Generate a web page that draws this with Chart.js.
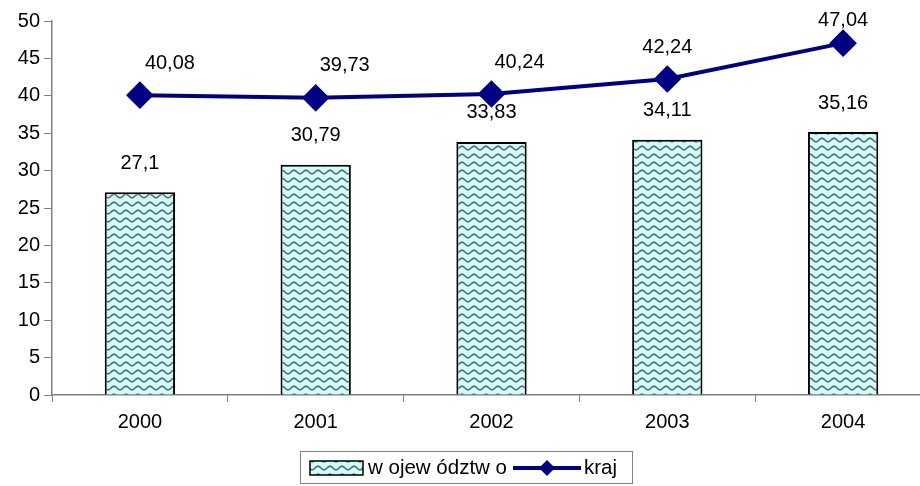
<!DOCTYPE html>
<html lang="pl">
<head>
<meta charset="UTF-8">
<title>wojewodztwo / kraj</title>
<script src="https://cdn.jsdelivr.net/npm/chart.js@4/dist/chart.umd.min.js"></script>
<style>
  html, body { margin: 0; padding: 0; background: #fff; overflow: hidden; }
</style>
</head>
<body>
<canvas id="chart" width="946" height="486"></canvas>
<script>
const years = ['2000', '2001', '2002', '2003', '2004'];
const wojewodztwo = [27.1, 30.79, 33.83, 34.11, 35.16];
const kraj = [40.08, 39.73, 40.24, 42.24, 47.04];
const barLabel = 'w ojew ództw o';
const lineLabel = 'kraj';

const FONT = '"Liberation Sans", Arial, sans-serif';
const FS = 20;
// horizontal nudge of the line value labels, as placed in the original
const lineLabelShift = [30, 29, 28, 0, 0];

// wavy hatch fill used for the bars
function wavePattern() {
  const c = document.createElement('canvas');
  c.width = 12; c.height = 8;
  const g = c.getContext('2d');
  g.fillStyle = '#ccfcfc';
  g.fillRect(0, 0, 12, 8);
  g.strokeStyle = '#6a6a6a';
  g.lineWidth = 1.7;
  g.beginPath();
  for (let x = -1; x <= 13; x += 0.5) {
    const y = 4 + 1.8 * Math.cos(x / 12 * Math.PI * 2);
    if (x === -1) g.moveTo(x, y); else g.lineTo(x, y);
  }
  g.stroke();
  return document.createElement('canvas').getContext('2d').createPattern(c, 'repeat');
}
const pattern = wavePattern();

const fmt = v => String(v).replace('.', ',');

const valueLabels = {
  id: 'valueLabels',
  afterDatasetsDraw(chart) {
    const ctx = chart.ctx;
    ctx.save();
    ctx.font = FS + 'px ' + FONT;
    ctx.fillStyle = '#000';
    ctx.textAlign = 'center';
    ctx.textBaseline = 'middle';
    chart.getDatasetMeta(0).data.forEach((el, i) => {
      ctx.fillText(fmt(wojewodztwo[i]), el.x, el.y - 29);
    });
    chart.getDatasetMeta(1).data.forEach((el, i) => {
      ctx.fillText(fmt(kraj[i]), el.x + lineLabelShift[i], Math.max(el.y - 32, 20));
    });
    ctx.restore();
  }
};

const boxLegend = {
  id: 'boxLegend',
  afterDraw(chart) {
    const ctx = chart.ctx;
    ctx.save();
    // frame
    ctx.strokeStyle = '#808080';
    ctx.lineWidth = 1;
    ctx.strokeRect(300.5, 451.5, 332, 32);
    // bar swatch
    ctx.fillStyle = pattern;
    ctx.fillRect(310, 461, 53, 14);
    ctx.strokeStyle = '#000';
    ctx.lineWidth = 1.5;
    ctx.strokeRect(310, 461, 53, 14);
    ctx.font = '20.5px ' + FONT;
    ctx.fillStyle = '#000';
    ctx.textBaseline = 'middle';
    ctx.fillText(barLabel, 368, 468);
    // line swatch
    ctx.strokeStyle = '#000080';
    ctx.lineWidth = 4;
    ctx.beginPath();
    ctx.moveTo(513, 468);
    ctx.lineTo(581, 468);
    ctx.stroke();
    ctx.fillStyle = '#000080';
    ctx.beginPath();
    ctx.moveTo(547, 460); ctx.lineTo(555, 468); ctx.lineTo(547, 476); ctx.lineTo(539, 468);
    ctx.closePath();
    ctx.fill();
    ctx.fillStyle = '#000';
    ctx.fillText(lineLabel, 584, 468);
    ctx.restore();
  }
};

new Chart(document.getElementById('chart'), {
  data: {
    labels: years,
    datasets: [{
      type: 'bar',
      label: barLabel,
      data: wojewodztwo,
      backgroundColor: pattern,
      borderColor: '#000',
      borderWidth: 2,
      barPercentage: 0.4,
      categoryPercentage: 1,
      order: 2
    }, {
      type: 'line',
      label: lineLabel,
      data: kraj,
      borderColor: '#000080',
      backgroundColor: '#000080',
      borderWidth: 4,
      pointStyle: 'rectRot',
      pointRadius: 11,
      pointHoverRadius: 11,
      tension: 0,
      order: 1
    }]
  },
  options: {
    responsive: false,
    animation: false,
    layout: { padding: { top: 21, right: 3, left: 0, bottom: 0 } },
    plugins: { legend: { display: false }, tooltip: { enabled: false } },
    scales: {
      x: {
        offset: true,
        afterFit: s => { s.height = 91; },
        grid: {
          offset: true,
          drawOnChartArea: false,
          drawTicks: true,
          tickLength: 7,
          color: '#808080'
        },
        border: { color: '#808080', width: 1.5 },
        ticks: { color: '#000', font: { family: FONT, size: FS }, padding: 8 }
      },
      y: {
        min: 0,
        max: 50,
        afterFit: s => { s.width = 52; },
        grid: {
          drawOnChartArea: false,
          drawTicks: true,
          tickLength: 8,
          color: '#808080'
        },
        border: { color: '#808080', width: 1.5 },
        ticks: { stepSize: 5, color: '#000', font: { family: FONT, size: FS }, padding: 4 }
      }
    }
  },
  plugins: [valueLabels, boxLegend]
});
</script>
</body>
</html>
